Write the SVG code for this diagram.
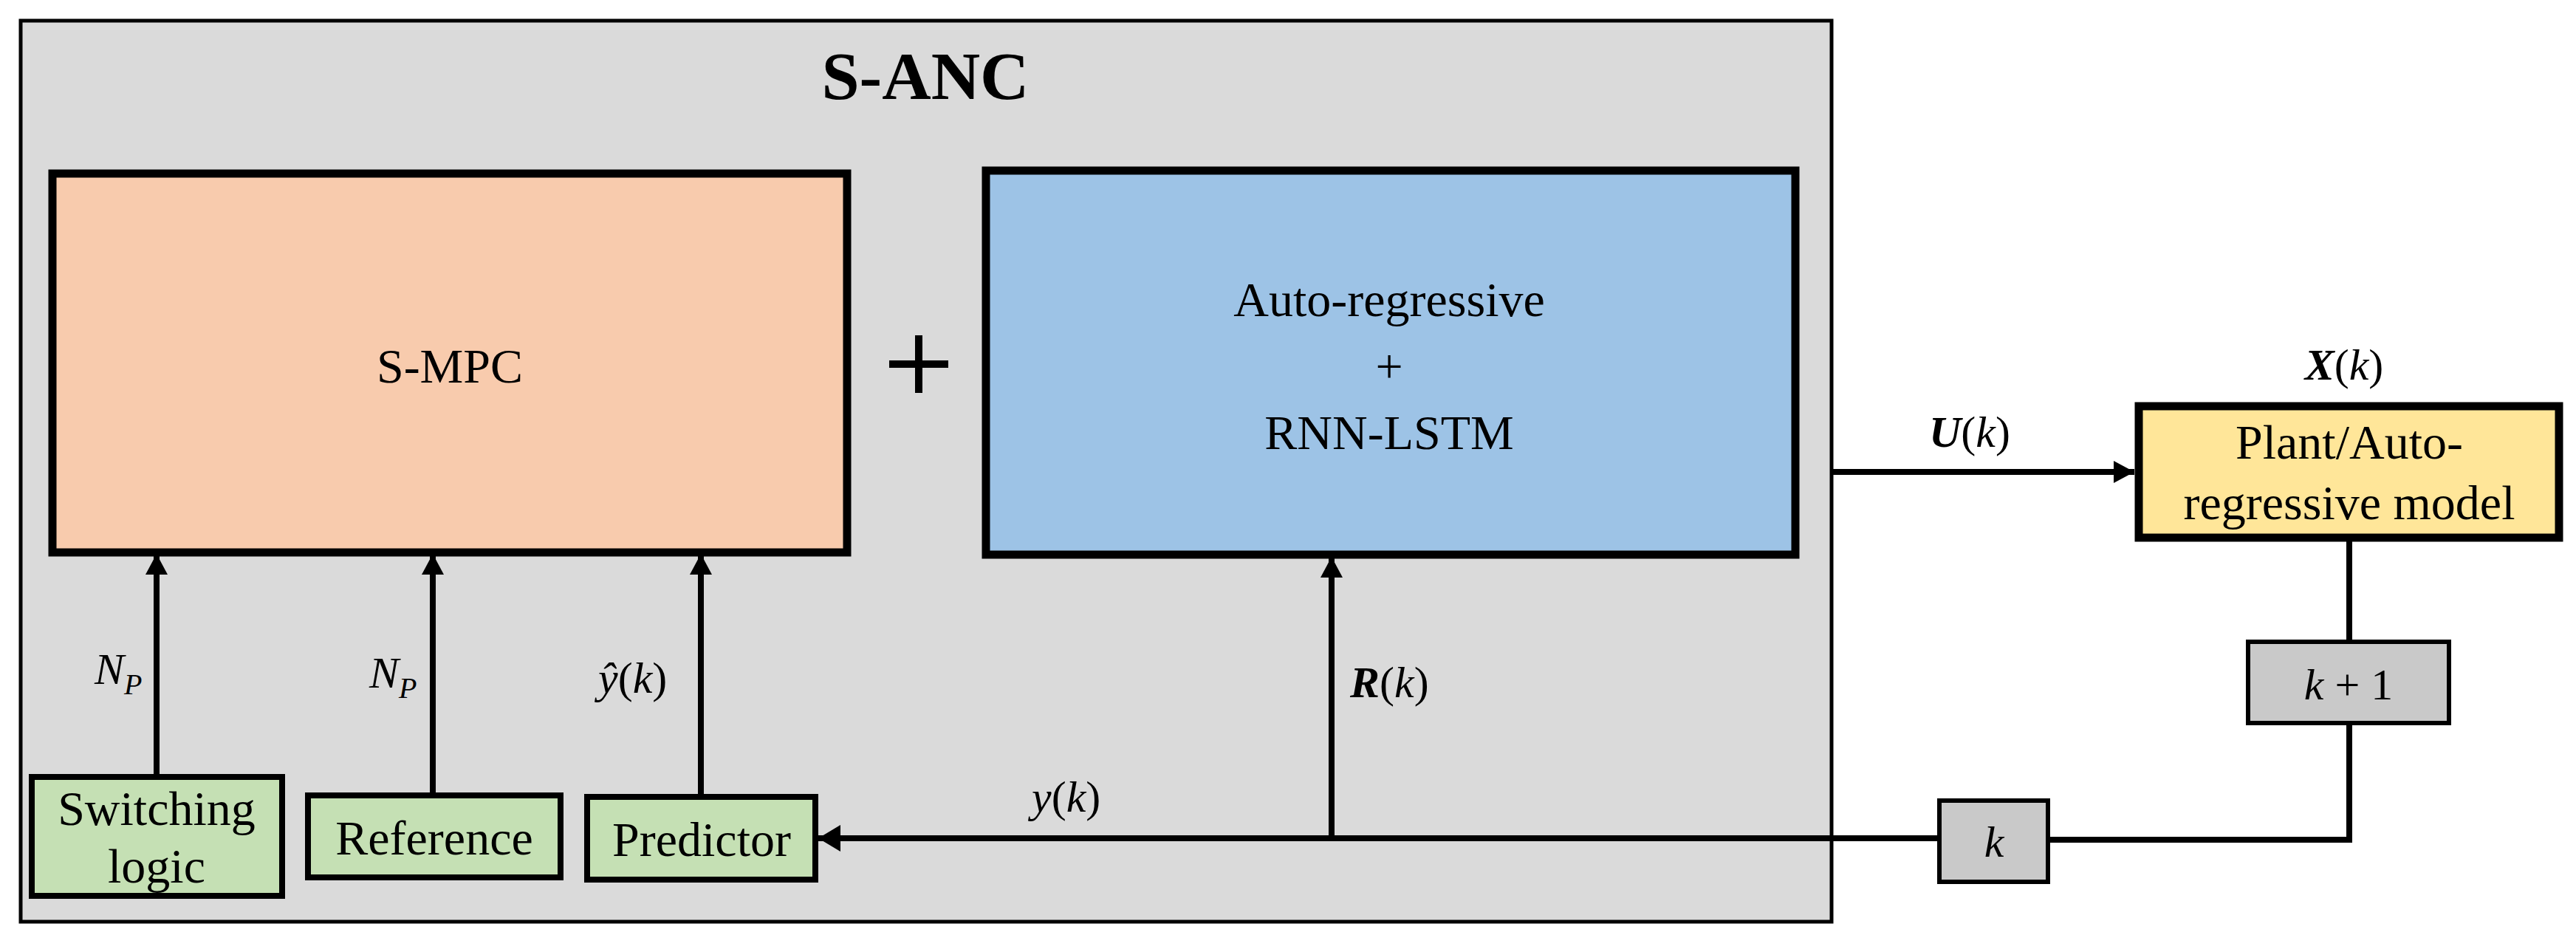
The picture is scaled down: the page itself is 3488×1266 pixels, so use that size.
<svg xmlns="http://www.w3.org/2000/svg" width="3488" height="1266" viewBox="0 0 3488 1266">
<defs>
<style>
text{font-family:"Liberation Serif","Times New Roman",serif;fill:#000}
.t{font-size:66px;text-anchor:middle}
.m{font-size:60px;font-style:italic}
.b{stroke:#000;stroke-width:11}
.s{stroke:#000;stroke-width:8}
.ln{stroke:#000;stroke-width:8;fill:none}
</style>
<marker id="ah" markerUnits="userSpaceOnUse" markerWidth="28" markerHeight="30" refX="28" refY="15" orient="auto"><path d="M0,0 L28,15 L0,30 Z" fill="#000"/></marker>
<marker id="ah2" markerUnits="userSpaceOnUse" markerWidth="30" markerHeight="36" refX="30" refY="18" orient="auto"><path d="M0,0 L30,18 L0,36 Z" fill="#000"/></marker>
</defs>
<rect width="3488" height="1266" fill="#fff"/>
<g id="s-anc">
<rect x="28" y="28" width="2452" height="1220" fill="#DADADA" stroke="#000" stroke-width="5"/>
<text x="1253" y="134" font-size="92" font-weight="bold" text-anchor="middle">S-ANC</text>
</g>
<g id="s-mpc">
<rect class="b" x="71" y="235" width="1076" height="513" fill="#F8CBAD"/>
<text class="t" x="609" y="518">S-MPC</text>
</g>
<g id="plus">
<path d="M1244,454 V532 M1204,493 H1284" stroke="#000" stroke-width="10"/>
</g>
<g id="ar-rnn">
<rect class="b" x="1335" y="231" width="1096" height="520" fill="#9DC3E6"/>
<text class="t" x="1881" y="428">Auto-regressive</text>
<text class="t" x="1881" y="518">+</text>
<text class="t" x="1881" y="608">RNN-LSTM</text>
</g>
<g id="switching">
<rect class="s" x="43" y="1052" width="339" height="161" fill="#C5E0B4"/>
<text class="t" x="212" y="1117" font-size="62">Switching</text>
<text class="t" x="212" y="1195" font-size="62">logic</text>
</g>
<g id="reference">
<rect class="s" x="417" y="1077" width="342" height="111" fill="#C5E0B4"/>
<text class="t" x="588" y="1157" font-size="62">Reference</text>
</g>
<g id="predictor">
<rect class="s" x="795" y="1079" width="309" height="112" fill="#C5E0B4"/>
<text class="t" x="950" y="1159" font-size="62">Predictor</text>
</g>
<g id="plant">
<rect class="b" x="2896" y="550" width="569" height="178" fill="#FFE699"/>
<text class="t" x="3181" y="621" font-size="62">Plant/Auto-</text>
<text class="t" x="3181" y="703" font-size="62">regressive model</text>
</g>
<g id="kp1">
<rect x="3044" y="869" width="272" height="110" fill="#C9C9C9" stroke="#000" stroke-width="6"/>
<text class="m" x="3180" y="947" text-anchor="middle"><tspan>k</tspan><tspan font-style="normal"> + 1</tspan></text>
</g>
<g id="kbox">
<rect x="2626" y="1084" width="147" height="110" fill="#C9C9C9" stroke="#000" stroke-width="6"/>
<text class="m" x="2700" y="1160" text-anchor="middle">k</text>
</g>
<g id="connectors">
<line class="ln" x1="212" y1="1052" x2="212" y2="750" marker-end="url(#ah)"/>
<line class="ln" x1="586" y1="1077" x2="586" y2="750" marker-end="url(#ah)"/>
<line class="ln" x1="949" y1="1079" x2="949" y2="750" marker-end="url(#ah)"/>
<line class="ln" x1="1803" y1="1135" x2="1803" y2="754" marker-end="url(#ah)"/>
<line class="ln" x1="2626" y1="1135" x2="1108" y2="1135" marker-end="url(#ah2)"/>
<polyline class="ln" points="2773,1137 3181,1137 3181,979"/>
<line class="ln" x1="3181" y1="728" x2="3181" y2="869"/>
<line class="ln" x1="2480" y1="639" x2="2890" y2="639" marker-end="url(#ah)"/>
</g>
<g id="labels">
<text class="m" x="128" y="926">N<tspan font-size="40" dy="14">P</tspan></text>
<text class="m" x="500" y="931">N<tspan font-size="40" dy="14">P</tspan></text>
<text class="m" x="810" y="938">ŷ<tspan font-style="normal">(</tspan>k<tspan font-style="normal">)</tspan></text>
<text class="m" x="1828" y="944"><tspan font-weight="bold">R</tspan><tspan font-style="normal">(</tspan>k<tspan font-style="normal">)</tspan></text>
<text class="m" x="1397" y="1099">y<tspan font-style="normal">(</tspan>k<tspan font-style="normal">)</tspan></text>
<text class="m" x="2612" y="605"><tspan font-weight="bold">U</tspan><tspan font-style="normal">(</tspan>k<tspan font-style="normal">)</tspan></text>
<text class="m" x="3174" y="514" text-anchor="middle"><tspan font-weight="bold">X</tspan><tspan font-style="normal">(</tspan>k<tspan font-style="normal">)</tspan></text>
</g>
</svg>
